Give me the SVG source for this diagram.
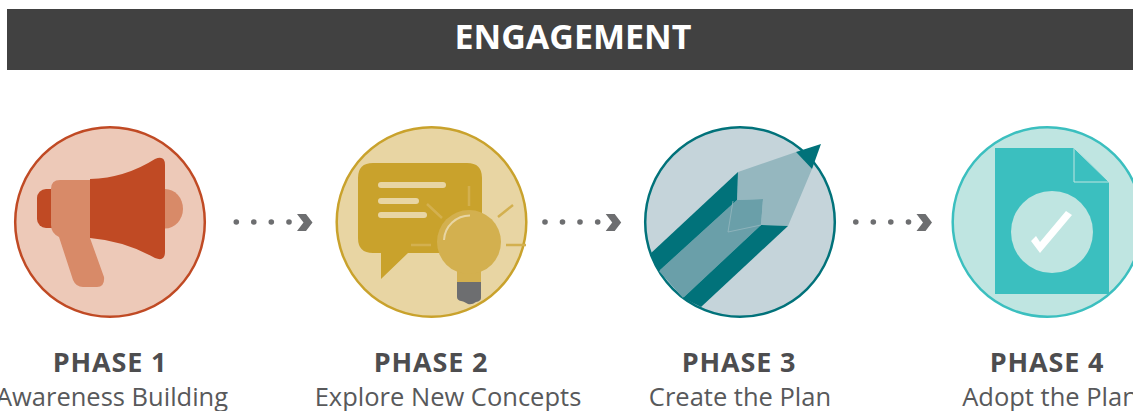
<svg xmlns="http://www.w3.org/2000/svg" width="1133" height="411" viewBox="0 0 1133 411">
<style>
text{font-family:"Open Sans","Noto Sans",sans-serif;text-anchor:middle}
.title{font-size:34px;font-weight:700;fill:#fff}
.ph{font-size:27px;font-weight:700;fill:#4d4d4f;letter-spacing:.8px}
.sub{font-size:25.500px;fill:#58595b}
.dot{fill:#6d6e70}
.ring{stroke-width:2.500}
</style>
<defs>
<g id="arr"><circle cx="236.300" cy="222" r="2.800" class="dot"/><circle cx="253.800" cy="222" r="2.800" class="dot"/><circle cx="271.300" cy="222" r="2.800" class="dot"/><circle cx="289" cy="222" r="2.800" class="dot"/><path d="M297 214H306L312.500 222.500L306 231H297L303.500 222.500Z" class="dot"/></g>
</defs>
<rect width="1133" height="411" fill="#fff"/>
<g id="banner"><rect x="7" y="9" width="1126" height="61" fill="#414141"/><text class="title" x="573" y="49">ENGAGEMENT</text></g>
<g id="connectors"><use href="#arr"/><use href="#arr" x="308.700"/><use href="#arr" x="619.500"/></g>
<g id="phase1">
<circle cx="110" cy="222" r="94.800" class="ring" fill="#edc9b8" stroke="#c04a24"/>
<rect x="37" y="189" width="25" height="39" rx="9" fill="#c04a24"/>
<path d="M165 189A18 19.750 0 0 1 165 228.500Z" fill="#d88a68"/>
<path d="M90 179Q125 178 155 159Q165 155 165 165V252Q165 262 155 258Q125 241 90 238Z" fill="#c04a24"/>
<path d="M51 189Q51 180 60 180H90V238L104 277Q105 287 97 287H83Q76 287 73 280L59 237Q51 233 51 225Z" fill="#d88a68"/>
<text class="ph" x="110" y="372">PHASE 1</text><text class="sub" x="112" y="406">Awareness Building</text>
</g>
<g id="phase2">
<circle cx="431.500" cy="222" r="94.800" class="ring" fill="#e8d5a3" stroke="#c9a22c"/>
<path d="M373 163H467Q482 163 482 178V238Q482 253 467 253H408L381 279V253H373Q358 253 358 238V178Q358 163 373 163Z" fill="#c9a22c"/>
<g fill="#e8d5a3"><rect x="378" y="182" width="68" height="6" rx="3"/><rect x="378" y="198" width="41" height="6" rx="3"/><rect x="378" y="212" width="49" height="6" rx="3"/></g>
<g stroke="#d3b04f" stroke-width="2.500" fill="none"><path d="M469 186V206M498 217L513 205M506 245H526M427 204L442 218M411 245H431"/></g>
<path d="M457 265V282H481V265Z" fill="#d3b04f"/><circle cx="469" cy="242" r="32" fill="#d3b04f"/>
<path d="M444 240A26 26 0 0 1 470 215.500" fill="none" stroke="#e8d5a3" stroke-width="2"/>
<path d="M457 282H481V298Q481 301 476 302Q472 305 468 304Q463 301 461 301Q457 300 457 297Z" fill="#6d6e70"/>
<text class="ph" x="431" y="372">PHASE 2</text><text class="sub" x="448" y="406">Explore New Concepts</text>
</g>
<g id="phase3">
<circle cx="740" cy="222" r="94.800" class="ring" fill="#c5d4da" stroke="#01727a"/>
<path d="M738 172L796 152L812 169L788 226L761 225L763 199L737 200Z" fill="#95b7bf"/>
<path d="M796 152L821 144L812 169Z" fill="#01727a"/>
<path d="M737 200L763 199L761 225L683 298L659 271Z" fill="#6a9fa9"/>
<path d="M738 172L737 200L659 271L650 254Z" fill="#01727a"/>
<path d="M761 225L788 226L701 307L683 298Z" fill="#01727a"/>
<path d="M733 201L728 232L761 225" fill="none" stroke="#95b7bf" stroke-width="0.800"/>
<text class="ph" x="739" y="372">PHASE 3</text><text class="sub" x="740" y="406">Create the Plan</text>
</g>
<g id="phase4">
<circle cx="1047.500" cy="222" r="94.800" class="ring" fill="#bfe5e1" stroke="#3bbfbf"/>
<path d="M995 148H1074L1109 182V294H995Z" fill="#3bbfbf"/>
<path d="M1074 148V182H1109Z" fill="#3bbfbf" stroke="#bfe5e1" stroke-width="1"/>
<circle cx="1052" cy="232" r="41" fill="#bfe5e1"/>
<path d="M1031 241L1040 253L1072 215L1066 211L1040 242L1036 236Z" fill="#fff"/>
<text class="ph" x="1047" y="372">PHASE 4</text><text class="sub" x="1050" y="406">Adopt the Plan</text>
</g>
</svg>
